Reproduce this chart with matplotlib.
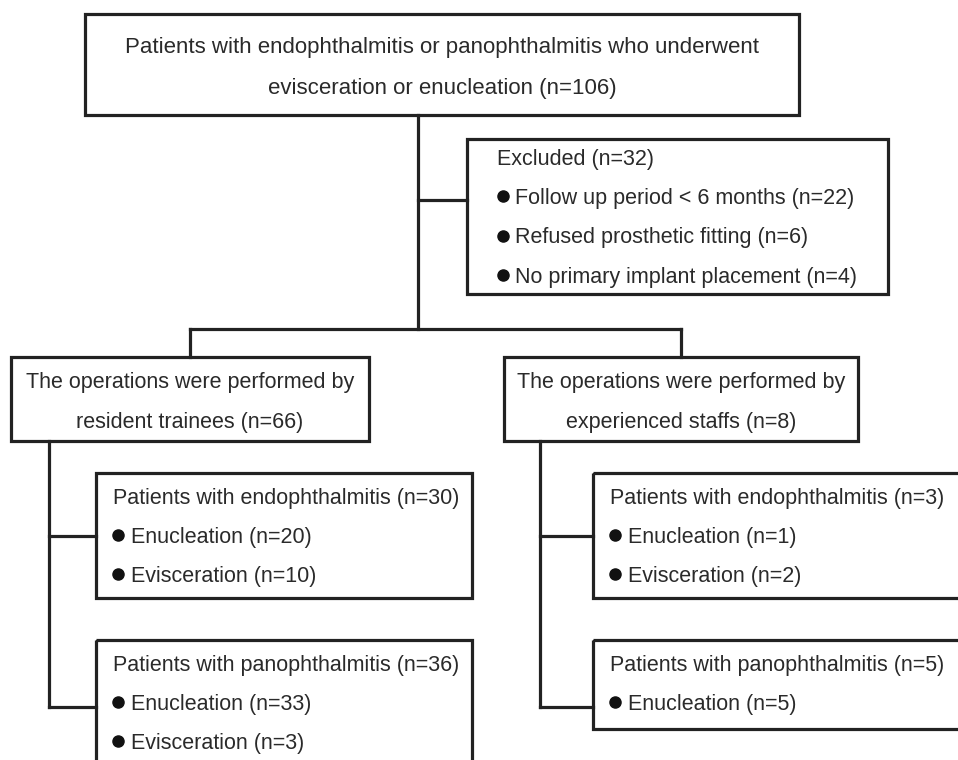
import matplotlib
matplotlib.use("Agg")
import matplotlib.pyplot as plt
from matplotlib.patches import Rectangle

plt.rcParams['font.family'] = ['Liberation Sans', 'DejaVu Sans']

# ---- data ----
top_lines = ["Patients with endophthalmitis or panophthalmitis who underwent",
             "evisceration or enucleation (n=106)"]
excluded_title = "Excluded (n=32)"
excluded_items = ["Follow up period < 6 months (n=22)",
                  "Refused prosthetic fitting (n=6)",
                  "No primary implant placement (n=4)"]
group_lines = [["The operations were performed by", "resident trainees (n=66)"],
               ["The operations were performed by", "experienced staffs (n=8)"]]
sub_titles = [["Patients with endophthalmitis (n=30)", "Patients with panophthalmitis (n=36)"],
              ["Patients with endophthalmitis (n=3)", "Patients with panophthalmitis (n=5)"]]
sub_items = [[["Enucleation (n=20)", "Evisceration (n=10)"],
              ["Enucleation (n=33)", "Evisceration (n=3)"]],
             [["Enucleation (n=1)", "Evisceration (n=2)"],
              ["Enucleation (n=5)"]]]

LC = "#222222"
TC = "#2a2a2a"
LW = 2.3
FS = 15.5
FS_TOP = 16.0

fig = plt.figure(figsize=(9.58, 7.6), dpi=100)
ax = fig.add_axes([0, 0, 1, 1])
ax.set_xlim(0, 958)
ax.set_ylim(760, 0)
ax.axis("off")

def box(x0, y0, x1, y1):
    ax.add_patch(Rectangle((x0, y0), x1 - x0, y1 - y0, fill=False,
                           edgecolor=LC, linewidth=LW, clip_on=False))

def line(xs, ys):
    ax.plot(xs, ys, color=LC, linewidth=LW, solid_capstyle="projecting",
            solid_joinstyle="miter")

def txt(x, y, s, ha="left", fs=FS):
    ax.text(x, y, s, ha=ha, va="center_baseline", fontsize=fs, color=TC)

def bullet(x, y, s, gap=13):
    ax.plot([x], [y], marker="o", markersize=8, color="#111111", linestyle="none")
    txt(x + gap, y, s)

# top box
box(85, 14, 799, 115)
txt(442, 45, top_lines[0], ha="center", fs=FS_TOP)
txt(442, 86, top_lines[1], ha="center", fs=FS_TOP)

# trunk
line([418, 418], [115, 329])
line([418, 467], [200, 200])

# excluded
box(467, 139, 888, 294)
txt(497, 157, excluded_title)
for i, s in enumerate(excluded_items):
    bullet(503, 196 + i * 39.5, s, gap=12)

# split
line([190, 681], [329, 329])
line([190, 190], [329, 357])
line([681, 681], [329, 357])

# group boxes
gx = [(11, 369), (504, 858)]
for g in range(2):
    x0, x1 = gx[g]
    box(x0, 357, x1, 441)
    cx = (x0 + x1) / 2
    txt(cx, 380, group_lines[g][0], ha="center")
    txt(cx, 420, group_lines[g][1], ha="center")

# sub trees
trunk_x = [49, 540]
sub_x0 = [96, 593]
sub_x1 = [472, 975]
sub_y = [(473, 598), (640, 780)]
for g in range(2):
    tx = trunk_x[g]
    line([tx, tx], [441, 707])
    for k in range(2):
        line([tx, sub_x0[g]], [536 + k * 171, 536 + k * 171])
        y0, y1 = sub_y[k]
        if g == 1 and k == 1:
            y1 = 729
        box(sub_x0[g], y0, sub_x1[g], y1)
        txt(sub_x0[g] + 17, y0 + 23, sub_titles[g][k])
        for j, s in enumerate(sub_items[g][k]):
            bullet(sub_x0[g] + 22, y0 + 62 + j * 39, s)

fig.savefig("out.png", dpi=100)
